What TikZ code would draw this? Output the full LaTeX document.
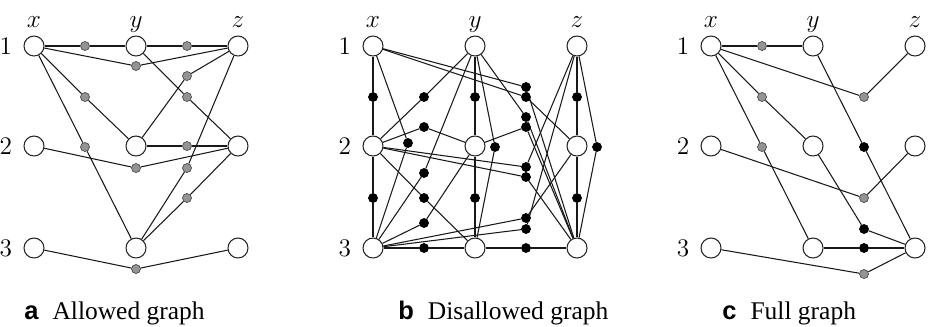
\documentclass[tikz,border=0pt]{standalone}
\usepackage{fontspec}
\setmainfont{Liberation Serif}
\newfontfamily\capsans{Liberation Sans}
\usetikzlibrary{positioning}
\pgfdeclarelayer{edges}
\pgfsetlayers{edges,main}
\tikzset{
    varnode/.style={circle, fill=white, draw=black!85, line width=0.6pt, minimum size=0.4cm, inner sep=0pt},
    dotgray/.style={circle, fill=black!42, draw=black!70, line width=0.4pt, minimum size=0.18cm, inner sep=0pt},
    dotblack/.style={circle, fill=black, draw=black, line width=0.4pt, minimum size=0.18cm, inner sep=0pt},
    linkline/.style={line width=0.6pt, draw=black!90},
    collabel/.style={font=\fontsize{15}{18}\selectfont, anchor=base, inner sep=0pt},
    rowlabel/.style={font=\fontsize{15.5}{18}\selectfont, inner sep=0pt},
    captext/.style={font=\fontsize{14.5}{17}\selectfont, anchor=base west, inner sep=0pt}
}
\begin{document}
\begin{tikzpicture}[x=0.02cm, y=-0.02cm]
    \useasboundingbox (0,0) rectangle (928,326);

    % (a) allowed graph
    \node[varnode] (a-x1) at (34,46) {};
    \node[varnode] (a-y1) at (136,46) {};
    \node[varnode] (a-z1) at (238,46) {};
    \node[varnode] (a-x2) at (34,146) {};
    \node[varnode] (a-y2) at (136,146) {};
    \node[varnode] (a-z2) at (238,146) {};
    \node[varnode] (a-x3) at (34,248) {};
    \node[varnode] (a-y3) at (136,248) {};
    \node[varnode] (a-z3) at (238,248) {};
    \node[collabel] (a-lx) at (34,27) {$x$};
    \node[collabel] (a-ly) at (136,27) {$y$};
    \node[collabel] (a-lz) at (238,27) {$z$};
    \node[rowlabel, left=0.22cm of a-x1] (a-r1) {$1$};
    \node[rowlabel, left=0.22cm of a-x2] (a-r2) {$2$};
    \node[rowlabel, left=0.22cm of a-x3] (a-r3) {$3$};

    \node[dotgray] (a-f1) at (85,46) {};
    \node[dotgray] (a-f2) at (187,46) {};
    \node[dotgray] (a-f3) at (136,66) {};
    \node[dotgray] (a-f4) at (85,97) {};
    \node[dotgray] (a-f5) at (85,147) {};
    \node[dotgray] (a-f6) at (187,97) {};
    \node[dotgray] (a-f7) at (187,76) {};
    \node[dotgray] (a-f8) at (187,146) {};
    \node[dotgray] (a-f9) at (136,168) {};
    \node[dotgray] (a-f10) at (187,168) {};
    \node[dotgray] (a-f11) at (187,198) {};
    \node[dotgray] (a-f12) at (136,269) {};

    \begin{pgfonlayer}{edges}
    \draw[linkline] (a-x1) -- (a-f1) -- (a-y1);
    \draw[linkline] (a-y1) -- (a-f2) -- (a-z1);
    \draw[linkline] (a-x1) -- (a-f3) -- (a-z1);
    \draw[linkline] (a-x1) -- (a-f4) -- (a-y2);
    \draw[linkline] (a-x1) -- (a-f5) -- (a-y3);
    \draw[linkline] (a-y1) -- (a-f6) -- (a-z2);
    \draw[linkline] (a-y2) -- (a-f7) -- (a-z1);
    \draw[linkline] (a-y2) -- (a-f8) -- (a-z2);
    \draw[linkline] (a-x2) -- (a-f9) -- (a-z2);
    \draw[linkline] (a-y3) -- (a-f10) -- (a-z1);
    \draw[linkline] (a-y3) -- (a-f11) -- (a-z2);
    \draw[linkline] (a-x3) -- (a-f12) -- (a-z3);
    \end{pgfonlayer}

    % (b) disallowed graph
    \begin{scope}[shift={(339,0)}]
    \node[varnode] (b-x1) at (34,46) {};
    \node[varnode] (b-y1) at (136,46) {};
    \node[varnode] (b-z1) at (238,46) {};
    \node[varnode] (b-x2) at (34,146) {};
    \node[varnode] (b-y2) at (136,146) {};
    \node[varnode] (b-z2) at (238,146) {};
    \node[varnode] (b-x3) at (34,248) {};
    \node[varnode] (b-y3) at (136,248) {};
    \node[varnode] (b-z3) at (238,248) {};
    \node[collabel] (b-lx) at (34,27) {$x$};
    \node[collabel] (b-ly) at (136,27) {$y$};
    \node[collabel] (b-lz) at (238,27) {$z$};
    \node[rowlabel, left=0.22cm of b-x1] (b-r1) {$1$};
    \node[rowlabel, left=0.22cm of b-x2] (b-r2) {$2$};
    \node[rowlabel, left=0.22cm of b-x3] (b-r3) {$3$};

    \node[dotblack] (b-f1) at (34,97) {};
    \node[dotblack] (b-f2) at (34,198) {};
    \node[dotblack] (b-f3) at (136,97) {};
    \node[dotblack] (b-f4) at (136,198) {};
    \node[dotblack] (b-f5) at (238,97) {};
    \node[dotblack] (b-f6) at (238,198) {};
    \node[dotblack] (b-f7) at (69,143) {};
    \node[dotblack] (b-f8) at (156,147) {};
    \node[dotblack] (b-f9) at (258,147) {};
    \node[dotblack] (b-f10) at (85,97) {};
    \node[dotblack] (b-f11) at (85,127) {};
    \node[dotblack] (b-f12) at (85,173) {};
    \node[dotblack] (b-f13) at (85,198) {};
    \node[dotblack] (b-f14) at (85,223) {};
    \node[dotblack] (b-f15) at (85,248) {};
    \node[dotblack] (b-f16) at (187,248) {};
    \node[dotblack] (b-f17) at (187,87) {};
    \node[dotblack] (b-f18) at (187,97) {};
    \node[dotblack] (b-f19) at (187,117) {};
    \node[dotblack] (b-f20) at (187,127) {};
    \node[dotblack] (b-f21) at (187,167) {};
    \node[dotblack] (b-f22) at (187,177) {};
    \node[dotblack] (b-f23) at (187,218) {};
    \node[dotblack] (b-f24) at (187,229) {};

    \begin{pgfonlayer}{edges}
    \draw[linkline] (b-x1) -- (b-f1) -- (b-x2);
    \draw[linkline] (b-x2) -- (b-f2) -- (b-x3);
    \draw[linkline] (b-y1) -- (b-f3) -- (b-y2);
    \draw[linkline] (b-y2) -- (b-f4) -- (b-y3);
    \draw[linkline] (b-z1) -- (b-f5) -- (b-z2);
    \draw[linkline] (b-z2) -- (b-f6) -- (b-z3);
    \draw[linkline] (b-x1) -- (b-f7) -- (b-x3);
    \draw[linkline] (b-y1) -- (b-f8) -- (b-y3);
    \draw[linkline] (b-z1) -- (b-f9) -- (b-z3);
    \draw[linkline] (b-x2) -- (b-f10) -- (b-y1);
    \draw[linkline] (b-x2) -- (b-f11) -- (b-y2);
    \draw[linkline] (b-x3) -- (b-f12) -- (b-y1);
    \draw[linkline] (b-x2) -- (b-f13) -- (b-y3);
    \draw[linkline] (b-x3) -- (b-f14) -- (b-y2);
    \draw[linkline] (b-x3) -- (b-f15) -- (b-y3);
    \draw[linkline] (b-y3) -- (b-f16) -- (b-z3);
    \draw[linkline] (b-x1) -- (b-f17) -- (b-z3);
    \draw[linkline] (b-x1) -- (b-f18) -- (b-z2);
    \draw[linkline] (b-y1) -- (b-f19) -- (b-z3);
    \draw[linkline] (b-y2) -- (b-f20) -- (b-z3);
    \draw[linkline] (b-x2) -- (b-f21) -- (b-z1);
    \draw[linkline] (b-x2) -- (b-f22) -- (b-z3);
    \draw[linkline] (b-x3) -- (b-f23) -- (b-z2);
    \draw[linkline] (b-x3) -- (b-f24) -- (b-z1);
    \end{pgfonlayer}
    \end{scope}

    % (c) full graph
    \begin{scope}[shift={(677,0)}]
    \node[varnode] (c-x1) at (34,46) {};
    \node[varnode] (c-y1) at (136,46) {};
    \node[varnode] (c-z1) at (238,46) {};
    \node[varnode] (c-x2) at (34,146) {};
    \node[varnode] (c-y2) at (136,146) {};
    \node[varnode] (c-z2) at (238,146) {};
    \node[varnode] (c-x3) at (34,248) {};
    \node[varnode] (c-y3) at (136,248) {};
    \node[varnode] (c-z3) at (238,248) {};
    \node[collabel] (c-lx) at (34,27) {$x$};
    \node[collabel] (c-ly) at (136,27) {$y$};
    \node[collabel] (c-lz) at (238,27) {$z$};
    \node[rowlabel, left=0.22cm of c-x1] (c-r1) {$1$};
    \node[rowlabel, left=0.22cm of c-x2] (c-r2) {$2$};
    \node[rowlabel, left=0.22cm of c-x3] (c-r3) {$3$};

    \node[dotgray] (c-f1) at (85,46) {};
    \node[dotgray] (c-f2) at (85,97) {};
    \node[dotgray] (c-f3) at (85,147) {};
    \node[dotgray] (c-f4) at (187,97) {};
    \node[dotblack] (c-f5) at (187,147) {};
    \node[dotgray] (c-f6) at (187,198) {};
    \node[dotblack] (c-f7) at (187,229) {};
    \node[dotblack] (c-f8) at (187,248) {};
    \node[dotgray] (c-f9) at (187,274) {};

    \begin{pgfonlayer}{edges}
    \draw[linkline] (c-x1) -- (c-f1) -- (c-y1);
    \draw[linkline] (c-x1) -- (c-f2) -- (c-y2);
    \draw[linkline] (c-x1) -- (c-f3) -- (c-y3);
    \draw[linkline] (c-x1) -- (c-f4) -- (c-z1);
    \draw[linkline] (c-y1) -- (c-f5) -- (c-z3);
    \draw[linkline] (c-x2) -- (c-f6) -- (c-z2);
    \draw[linkline] (c-y2) -- (c-f7) -- (c-z3);
    \draw[linkline] (c-y3) -- (c-f8) -- (c-z3);
    \draw[linkline] (c-x3) -- (c-f9) -- (c-z3);
    \end{pgfonlayer}
    \end{scope}

    % captions
    \node[captext] (a-cap) at (24,319) {{\capsans\bfseries a}\hspace{0.55em}Allowed graph};
    \node[captext] (b-cap) at (398,319) {{\capsans\bfseries b}\hspace{0.55em}Disallowed graph};
    \node[captext] (c-cap) at (722,319) {{\capsans\bfseries c}\hspace{0.55em}Full graph};
\end{tikzpicture}
\end{document}
